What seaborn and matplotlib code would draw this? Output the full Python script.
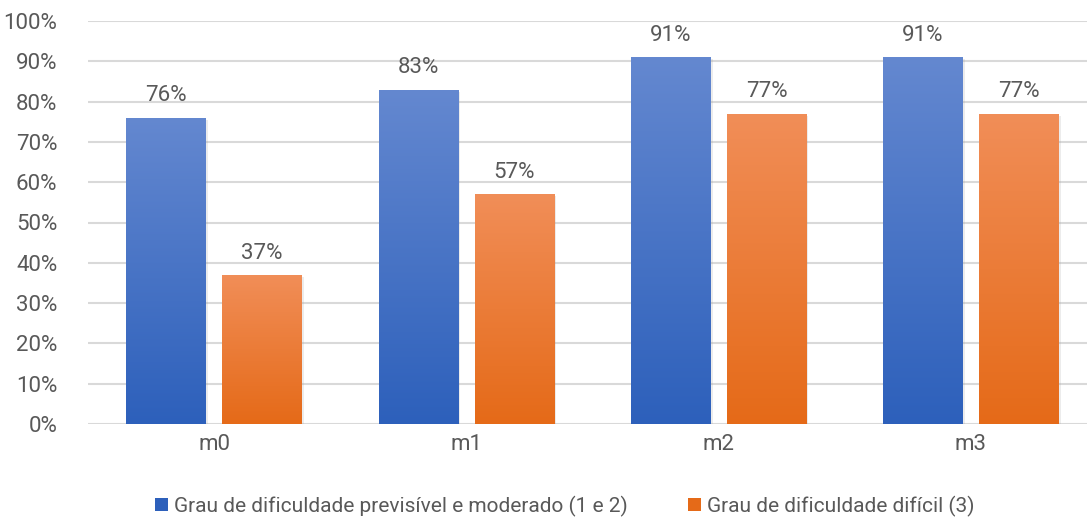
import numpy as np
import pandas as pd
import matplotlib
matplotlib.use("Agg")
import matplotlib.pyplot as plt
import seaborn as sns
from matplotlib.colors import LinearSegmentedColormap
from matplotlib.patches import Patch
import matplotlib.patheffects as pe

categories = ["m0", "m1", "m2", "m3"]
series_names = ["Grau de dificuldade previsível e moderado (1 e 2)",
                "Grau de dificuldade difícil (3)"]
values_s1 = [76, 83, 91, 91]
values_s2 = [37, 57, 77, 77]
yticks = [0, 10, 20, 30, 40, 50, 60, 70, 80, 90, 100]

blue_top, blue_bot = "#6488d0", "#2d60bb"
orange_top, orange_bot = "#f18e58", "#e56a18"

df = pd.DataFrame({
    "cat": categories * 2,
    "serie": [series_names[0]] * 4 + [series_names[1]] * 4,
    "val": values_s1 + values_s2,
})

sns.set_theme(style="white")
plt.rcParams["font.family"] = ["Roboto", "DejaVu Sans"]
text_color = "#595959"

fig = plt.figure(figsize=(10.87, 5.19), dpi=100)
ax = fig.add_axes([88 / 1087, 95 / 519, 1009 / 1087, 403 / 519])

sns.barplot(data=df, x="cat", y="val", hue="serie", order=categories,
            hue_order=series_names, palette=[blue_bot, orange_bot],
            width=0.76, gap=0.17, ax=ax, legend=False, errorbar=None)

ax.set_ylim(0, 100)
ax.set_xlim(-0.5, 3.5)
ax.set_yticks(yticks)
ax.set_yticklabels([f"{t}%" for t in yticks])
ax.yaxis.grid(True, color="#d9d9d9", linewidth=1.5)
ax.set_axisbelow(True)
for s in ax.spines.values():
    s.set_visible(False)
ax.set_xlabel("")
ax.set_ylabel("")
ax.tick_params(axis="both", length=0, labelsize=16, colors=text_color)
ax.tick_params(axis="y", pad=22)
ax.tick_params(axis="x", pad=7)

grads = [LinearSegmentedColormap.from_list("b", [blue_bot, blue_top]),
         LinearSegmentedColormap.from_list("o", [orange_bot, orange_top])]
grad = np.linspace(0, 1, 256).reshape(-1, 1)

patches = list(ax.patches)
for i, p in enumerate(patches):
    si = 0 if i < len(categories) else 1
    x0, w, h = p.get_x(), p.get_width(), p.get_height()
    p.set_edgecolor("none")
    p.set_facecolor((1, 1, 1, 0.0))
    p.set_path_effects([pe.SimplePatchShadow(offset=(1.5, -1.5), shadow_rgbFace="#999999", alpha=0.18)])
    im = ax.imshow(grad, cmap=grads[si], aspect="auto", origin="lower",
                   extent=[x0, x0 + w, 0, h], zorder=2.5, interpolation="bilinear")
    im.set_clip_path(p)
    ax.text(x0 + w / 2, h + 2.8, f"{h:.0f}%", ha="center", va="bottom",
            fontsize=16, color=text_color, zorder=4)

ax.set_xlim(-0.5, 3.5)
ax.set_ylim(0, 100)

handles = [Patch(facecolor=blue_bot, edgecolor="none"),
           Patch(facecolor=orange_bot, edgecolor="none")]
fig.legend(handles, series_names, loc="center", bbox_to_anchor=(565 / 1087, 13 / 519),
           ncol=2, frameon=False, fontsize=15, labelcolor=text_color,
           handlelength=0.6, handleheight=0.6, handletextpad=0.3, columnspacing=2.9)

fig.savefig("out.png", dpi=100, facecolor="white")
